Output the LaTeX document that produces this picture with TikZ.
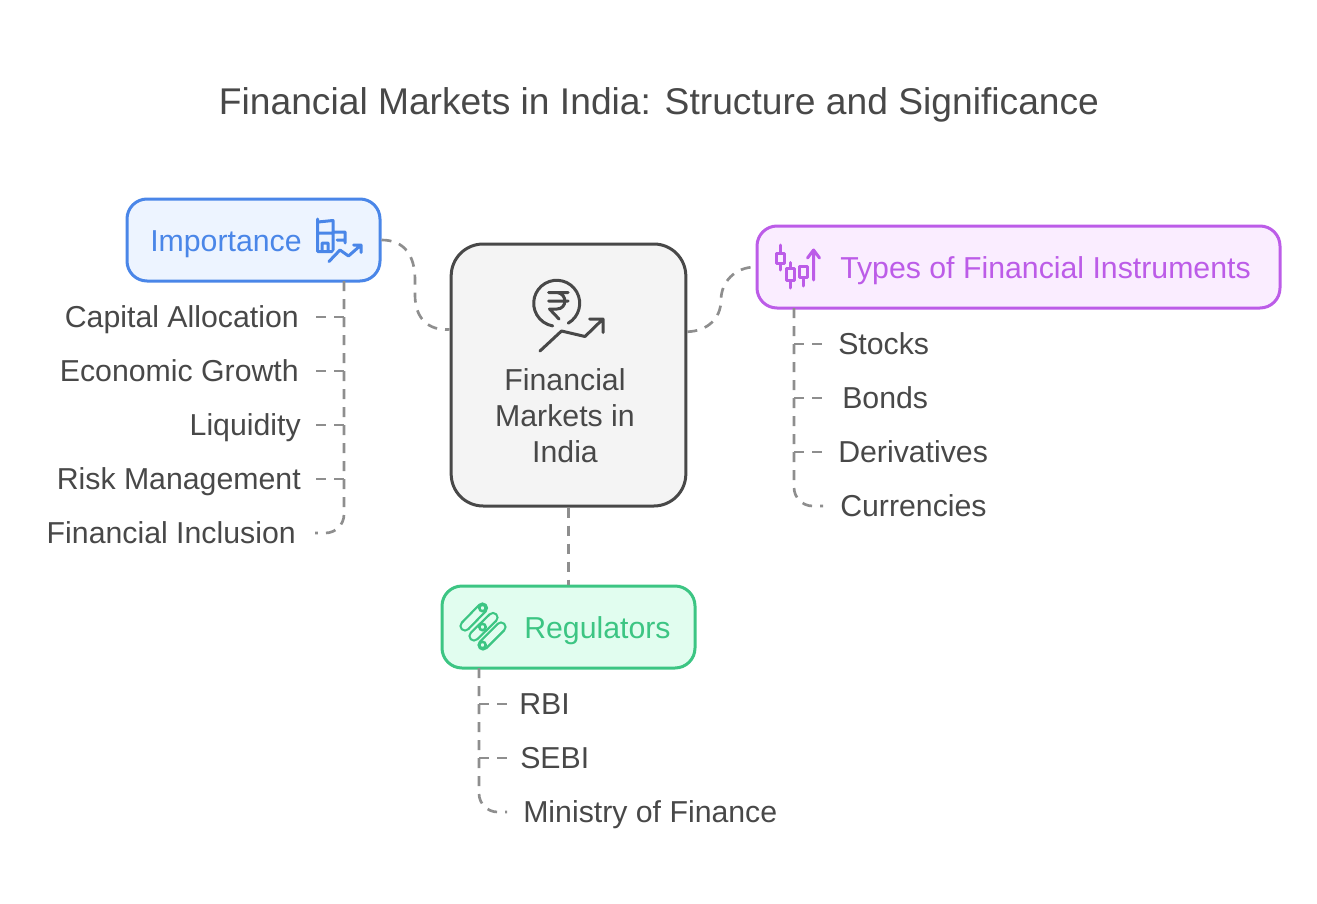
\documentclass[tikz,border=0pt]{standalone}
\usepackage{fontspec}
\setmainfont{Liberation Sans}
\definecolor{inkgrey}{HTML}{484848}
\definecolor{dashgrey}{HTML}{8E8E8E}
\definecolor{impblue}{HTML}{4A86E8}
\definecolor{impfill}{HTML}{EDF4FF}
\definecolor{typpurple}{HTML}{BC5CE8}
\definecolor{typfill}{HTML}{FAEDFF}
\definecolor{reggreen}{HTML}{3CC583}
\definecolor{regfill}{HTML}{E1FDEF}
\definecolor{mainfill}{HTML}{F4F4F4}

\begin{document}
\begin{tikzpicture}[x=0.75pt,y=-0.75pt,
    main node/.style={rectangle,rounded corners=24pt,draw=inkgrey,fill=mainfill,
      line width=2.25pt,minimum width=176pt,minimum height=196.5pt,inner sep=0pt},
    head node/.style={rectangle,rounded corners=15pt,line width=2.25pt,
      minimum height=61.5pt,inner sep=0pt},
    head text/.style={anchor=west,inner sep=0pt,text height=16.3pt,text depth=0pt,
      font=\fontsize{22.7}{27}\selectfont},
    left item/.style={anchor=east,text=inkgrey,inner ysep=0pt,inner xsep=12.75pt,
      text height=16.3pt,text depth=0pt,font=\fontsize{22.7}{27}\selectfont},
    right item/.style={anchor=west,text=inkgrey,inner ysep=0pt,inner xsep=12pt,
      text height=16.3pt,text depth=0pt,font=\fontsize{22.7}{27}\selectfont},
    link/.style={draw=dashgrey,line width=2pt,dash pattern=on 7.5pt off 6pt},
    icon/.style={line width=2.25pt,line cap=round,line join=round}]

    \useasboundingbox (0,0) rectangle (1317,903);

    \node[text=inkgrey,text height=20pt,text depth=0pt,font=\fontsize{27.9}{33}\selectfont] (title) at (659,101)
      {Financial Markets in India: Structure and Significance};

    % boxes
    \node[main node] (markets) at (568.5,375) {};
    \node[head node,draw=impblue,fill=impfill,minimum width=189.75pt] (importance) at (253.5,240) {};
    \node[head node,draw=typpurple,fill=typfill,minimum width=392.25pt] (types) at (1018.5,267) {};
    \node[head node,draw=reggreen,fill=regfill,minimum width=189.75pt] (regulators) at (568.5,627) {};

    \node[text=inkgrey,align=center,inner sep=0pt,font=\fontsize{22.7}{27}\selectfont] (marketstext) at (565,416)
      {Financial\\Markets in\\India};
    \node[head text,text=impblue] (importancetext) at (150,241) {Importance};
    \node[head text,text=typpurple] (typestext) at (840,268) {Types of Financial Instruments};
    \node[head text,text=reggreen] (regulatorstext) at (524,628) {Regulators};

    % items
    \node[left item] (capital) at (316,317) {Capital Allocation};
    \node[left item] (growth) at (316,371) {Economic Growth};
    \node[left item,inner xsep=11.25pt] (liquidity) at (316,425) {Liquidity};
    \node[left item,inner xsep=11.25pt] (risk) at (316,479) {Risk Management};
    \node[left item,inner xsep=14.25pt] (inclusion) at (315,533) {Financial Inclusion};

    \node[right item] (stocks) at (822,344) {Stocks};
    \node[right item,inner xsep=15pt] (bonds) at (822,398) {Bonds};
    \node[right item] (derivatives) at (822,452) {Derivatives};
    \node[right item,inner xsep=12.75pt] (currencies) at (823,506) {Currencies};

    \node[right item,inner xsep=9pt] (rbi) at (507,704) {RBI};
    \node[right item,inner xsep=9.75pt] (sebi) at (507,758) {SEBI};
    \node[right item] (ministry) at (507,812) {Ministry of Finance};

    \coordinate (importanceroot) at (344,281);
    \coordinate (typesroot) at (794,308);
    \coordinate (regulatorsroot) at (479,668);

    % links
    \draw[link] (importance.east) .. controls (404,240) and (415,255) .. (415,280)
      -- (415,295) .. controls (415,318) and (428,331) .. (markets.159.5);
    \draw[link] (markets.20.5) .. controls (708,331) and (721,318) .. (721,300)
      .. controls (721,282) and (735,267) .. (types.west);
    \draw[link] (markets.south) -- (regulators.north);

    \draw[link,rounded corners=14pt] (importanceroot) |- (inclusion.east);
    \draw[link] (capital.east) -- (capital.east -| importanceroot);
    \draw[link] (growth.east) -- (growth.east -| importanceroot);
    \draw[link] (liquidity.east) -- (liquidity.east -| importanceroot);
    \draw[link] (risk.east) -- (risk.east -| importanceroot);

    \draw[link,rounded corners=14pt] (typesroot) |- (currencies.west);
    \draw[link] (typesroot |- stocks.west) -- (stocks.west);
    \draw[link] (typesroot |- bonds.west) -- (bonds.west);
    \draw[link] (typesroot |- derivatives.west) -- (derivatives.west);

    \draw[link,rounded corners=14pt] (regulatorsroot) |- (ministry.west);
    \draw[link] (regulatorsroot |- rbi.west) -- (rbi.west);
    \draw[link] (regulatorsroot |- sebi.west) -- (sebi.west);

    % rupee icon
    \draw[icon,draw=inkgrey] (568.2,323.2) arc[start angle=-60,end angle=260,radius=17.25pt];
    \draw[icon,draw=inkgrey] (548.5,292.5) -- (568,292.5) (548.5,301) -- (568,301)
      (557,292.5) .. controls (568,294) and (567,309) .. (557,309) -- (549.5,309) -- (559,319);
    \draw[icon,draw=inkgrey] (540,351) -- (561.5,331) -- (585,336.5) -- (603,319)
      (589.5,319) -- (603,319) -- (603,332.5);

    % building icon
    \draw[icon,draw=impblue] (317.5,219) -- (317.5,251.5) -- (332,251.5)
      (318,222) -- (333,220.5) -- (333,250)
      (318,233) -- (333,233)
      (333,232) -- (345,232) -- (345,243)
      (337,240) -- (345,240)
      (322,251) -- (322,243) -- (328,243) -- (328,251);
    \draw[icon,draw=impblue] (329,261.5) -- (340,250) -- (348.5,256) -- (361,245)
      (353.5,245) -- (361,245) -- (361,252.5);

    % candle icon
    \draw[icon,draw=typpurple] (780,245) -- (780,270) (790.5,262.5) -- (790.5,288) (803,286) -- (803,278);
    \draw[icon,draw=typpurple,fill=typfill] (776,253.5) rectangle (784,263.5)
      (786.7,268.5) rectangle (794.3,280) (799.3,266) rectangle (807.3,277.5);
    \draw[icon,draw=typpurple] (813.5,280) -- (813.5,251) (807.5,258) -- (813.5,250) -- (819.5,258);

    % pill icon
    \foreach \xa/\ya/\xb/\yb in {482.5/608/465/626, 493/617.5/474/636, 501/627/483/645}{
      \draw[line width=8.5pt,line cap=round,draw=reggreen] (\xa,\ya) -- (\xb,\yb);
      \draw[line width=5pt,line cap=round,draw=regfill] (\xa,\ya) -- (\xb,\yb);
    }
    \foreach \xa/\ya in {482.5/608, 482.5/627, 482.5/645}
      \draw[line width=1.9pt,draw=reggreen,fill=regfill] (\xa,\ya) circle (2.4pt);
\end{tikzpicture}
\end{document}
